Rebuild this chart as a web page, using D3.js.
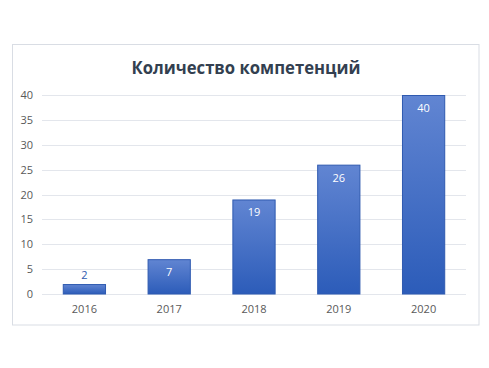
<!DOCTYPE html>
<html><head><meta charset="utf-8">
<script src="https://cdn.jsdelivr.net/npm/d3@7"></script>
<style>body{margin:0;background:#fff}svg{display:block}</style>
</head><body>
<script>
const title = "Количество компетенций";
const years = ["2016","2017","2018","2019","2020"];
const values = [2,7,19,26,40];
const yTicks = [0,5,10,15,20,25,30,35,40];

const W=489,H=368;
const svg=d3.select("body").append("svg").attr("width",W).attr("height",H);
const defs=svg.append("defs");
const g=defs.append("linearGradient").attr("id","bg").attr("x1",0).attr("y1",0).attr("x2",0).attr("y2",1);
g.append("stop").attr("offset","0%").attr("stop-color","#6185d2");
g.append("stop").attr("offset","100%").attr("stop-color","#2c5cb9");

svg.append("rect").attr("x",12.5).attr("y",44.5).attr("width",466.5).attr("height",280.5)
  .attr("fill","#fff").attr("stroke","#d9dde4").attr("stroke-width",1);

svg.append("text").attr("x",246).attr("y",73.5).attr("text-anchor","middle")
  .attr("font-family","'Open Sans',sans-serif").attr("font-weight","bold").attr("font-size",17.5)
  .attr("textLength",229).attr("lengthAdjust","spacingAndGlyphs")
  .attr("fill","#333f50").text(title);

const x=d3.scaleBand().domain(years).range([42,466]).paddingInner(0.49).paddingOuter(0.245);
const y=d3.scaleLinear().domain([0,40]).range([294,95]);

const grid=svg.append("g");
grid.selectAll("line").data(yTicks).join("line")
  .attr("x1",42).attr("x2",466).attr("y1",d=>Math.round(y(d))+0.5).attr("y2",d=>Math.round(y(d))+0.5)
  .attr("stroke","#e3e6ec").attr("stroke-width",1);

const yAxis=svg.append("g").attr("transform","translate(42,0)")
  .call(d3.axisLeft(y).tickValues(yTicks).tickSize(0).tickPadding(9));
yAxis.select(".domain").remove();
yAxis.selectAll("text").attr("font-family","'Open Sans',sans-serif").attr("font-size",11).attr("fill","#595959");

const xAxis=svg.append("g").attr("transform","translate(0,294)")
  .call(d3.axisBottom(x).tickSize(0).tickPadding(11));
xAxis.select(".domain").remove();
xAxis.selectAll("text").attr("font-family","'Open Sans',sans-serif").attr("font-size",11).attr("fill","#595959");

svg.append("g").selectAll("rect").data(values).join("rect")
  .attr("x",(d,i)=>x(years[i])+0.5).attr("width",x.bandwidth()-1)
  .attr("y",d=>y(d)+0.5).attr("height",d=>y(0)-y(d)-0.5)
  .attr("fill","url(#bg)").attr("stroke","#2f5ab0").attr("stroke-width",1);

svg.append("g").selectAll("text").data(values).join("text")
  .attr("x",(d,i)=>x(years[i])+x.bandwidth()/2)
  .attr("y",d=> d<5 ? y(d)-5 : y(d)+17)
  .attr("text-anchor","middle")
  .attr("font-family","'Open Sans',sans-serif").attr("font-size",11)
  .attr("fill",d=>d<5?"#2f5ab0":"#ffffff").text(d=>d);
</script>
</body></html>
